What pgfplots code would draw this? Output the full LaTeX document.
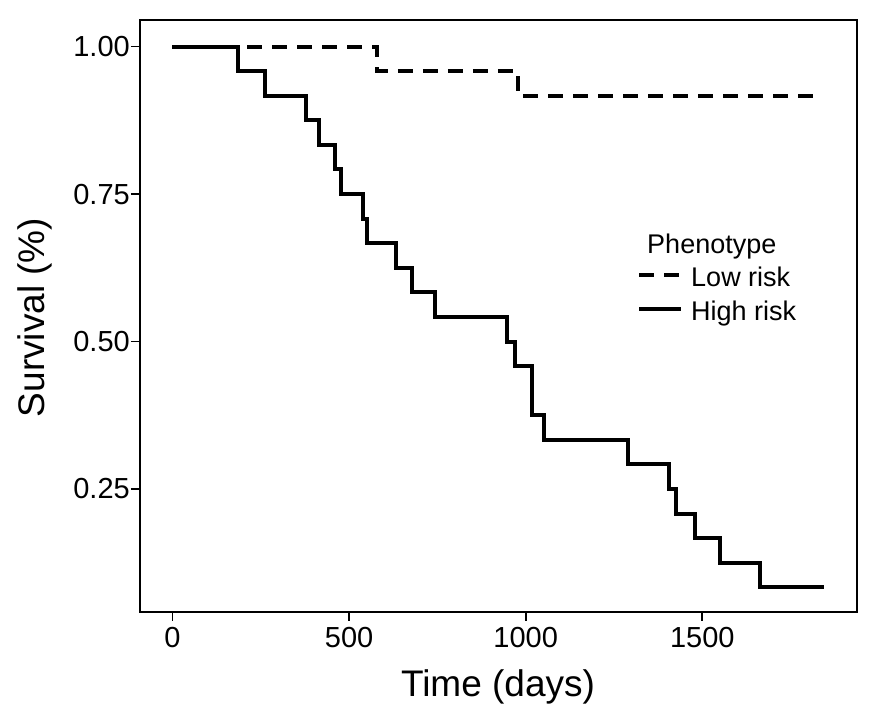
\documentclass[border=0pt]{standalone}
\usepackage{pgfplots}
\pgfplotsset{compat=1.18}
\usepackage{fontspec}
\setmainfont{Liberation Sans}

\pgfplotstableread{
t s
0 1.0
578 0.9583
978 0.9167
1830 0.9167
}\lowrisk

\pgfplotstableread{
t s
0 1.0
185 0.9583
263 0.9167
378 0.875
416 0.8333
460 0.7917
477 0.75
539 0.7083
551 0.6667
633 0.625
678 0.5833
744 0.5417
947 0.5
969 0.4583
1017 0.375
1053 0.3333
1289 0.2917
1407 0.25
1426 0.2083
1478 0.1667
1549 0.125
1662 0.0833
1845 0.0833
}\highrisk

\begin{document}
\begin{tikzpicture}
\begin{axis}[
  name=ax,
  width=716.7pt, height=591.7pt, scale only axis,
  xmin=-92, xmax=1937, ymin=0.042, ymax=1.045,
  xtick={0,500,1000,1500},
  ytick={0.25,0.5,0.75,1},
  yticklabels={0.25,0.50,0.75,1.00},
  xtick pos=lower, ytick pos=left,
  tick align=outside,
  major tick length=9pt,
  every tick/.style={black, line width=1.8pt},
  axis line style={black, line width=1.8pt},
  /pgf/number format/assume math mode=true,
  /pgf/number format/1000 sep={},
  xticklabel style={font=\fontsize{29}{35}\selectfont, inner sep=6pt},
  yticklabel style={font=\fontsize{29}{35}\selectfont, inner sep=1pt},
  xlabel={Time (days)},
  ylabel={Survival (\%)},
  xlabel style={font=\fontsize{37}{44}\selectfont, at={(axis description cs:0.4995,-0.1437)}, anchor=base},
  ylabel style={font=\fontsize{37}{44}\selectfont, at={(axis description cs:-0.1326,0.4972)}, anchor=base},
  legend style={draw=none, fill=none, at={(0.6935,0.6436)}, anchor=north west,
    inner sep=0pt, row sep=1.3pt, font=\fontsize{27}{32}\selectfont,
    nodes={inner sep=0pt, text height=22.4pt, text depth=9.6pt},
    /tikz/every odd column/.style={column sep=8pt}},
  legend cell align=left,
  legend image code/.code={\draw[#1] (0pt,5pt) -- (42pt,5pt);},
]
\addlegendimage{empty legend}
\addlegendentry{\hspace{-44pt}Phenotype}
\addplot[const plot, black, line width=4pt, dash pattern=on 15pt off 10pt] table[x=t,y=s] {\lowrisk};
\addlegendentry{Low risk}
\addplot[const plot, black, line width=4pt] table[x=t,y=s] {\highrisk};
\addlegendentry{High risk}
\end{axis}
\pgfresetboundingbox
\path ([xshift=-140pt,yshift=-110.3pt]ax.south west) rectangle ([xshift=27.3pt,yshift=20pt]ax.north east);
\end{tikzpicture}
\end{document}
